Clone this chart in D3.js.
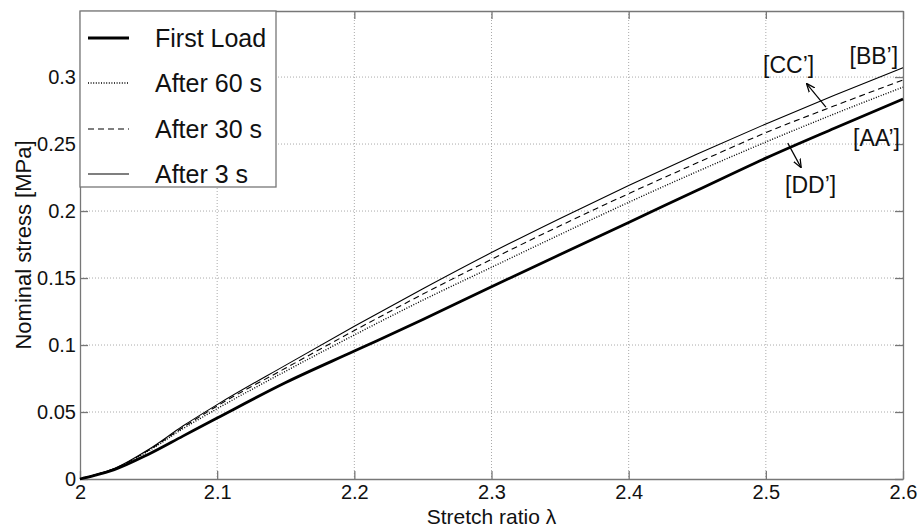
<!DOCTYPE html>
<html><head><meta charset="utf-8">
<script src="https://cdnjs.cloudflare.com/ajax/libs/d3/7.8.5/d3.min.js"></script>
<style>
body{margin:0;background:#fff;}
svg{display:block;font-family:"Liberation Sans",Arial,Helvetica,sans-serif;}
</style></head>
<body><svg id="chart" width="922" height="528"></svg>
<script>
// ---- data ----
const stretch = [2.0, 2.01, 2.025, 2.05, 2.075, 2.1, 2.15, 2.2, 2.25, 2.3, 2.35, 2.4, 2.45, 2.5, 2.55, 2.6];
const firstLoad = [0, 0.0025, 0.007, 0.0185, 0.032, 0.0455, 0.072, 0.0955, 0.119, 0.1435, 0.1675, 0.1915, 0.2155, 0.2395, 0.2618, 0.2836];
const after60 = [0, 0.0027, 0.0075, 0.021, 0.0375, 0.0525, 0.0805, 0.1075, 0.1335, 0.158, 0.1825, 0.2065, 0.2295, 0.2515, 0.2725, 0.2925];
const after30 = [0, 0.0028, 0.0077, 0.0215, 0.0385, 0.0545, 0.0828, 0.1108, 0.138, 0.164, 0.189, 0.213, 0.236, 0.2585, 0.2785, 0.2978];
const after3 = [0, 0.0028, 0.0078, 0.022, 0.0395, 0.0555, 0.085, 0.114, 0.142, 0.169, 0.1945, 0.219, 0.2425, 0.265, 0.2865, 0.307];
const seriesNames = ["First Load", "After 60 s", "After 30 s", "After 3 s"];
const xTicks = [2, 2.1, 2.2, 2.3, 2.4, 2.5, 2.6];
const xTickLabels = ["2", "2.1", "2.2", "2.3", "2.4", "2.5", "2.6"];
const yTicks = [0, 0.05, 0.1, 0.15, 0.2, 0.25, 0.3];
const yTickLabels = ["0", "0.05", "0.1", "0.15", "0.2", "0.25", "0.3"];
const labelTexts = ["[BB’]", "[CC’]", "[AA’]", "[DD’]"];
const labelX = [2.561, 2.498, 2.5636, 2.514];
const labelY = [0.3095, 0.303, 0.2485, 0.2135];
const arrowFromX = [2.5438, 2.516];
const arrowFromY = [0.2776, 0.2507];
const arrowToX = [2.530, 2.5255];
const arrowToY = [0.2948, 0.2328];

// ---- layout ----
const svg = d3.select("#chart");
const m = {left: 80, right: 19, top: 11, bottom: 49};
const W = 922, H = 528;
const iw = W - m.left - m.right, ih = H - m.top - m.bottom;
const x = d3.scaleLinear().domain([2, 2.6]).range([m.left, m.left + iw]);
const y = d3.scaleLinear().domain([0, 0.3493]).range([m.top + ih, m.top]);

const styles = [
  {w: 2.8, dash: null},
  {w: 1.4, dash: "1,1.6"},
  {w: 1.1, dash: "6,4"},
  {w: 1.1, dash: null}
];
const allSeries = [firstLoad, after60, after30, after3];

// defs
svg.append("defs").append("marker").attr("id", "arr")
  .attr("viewBox", "0 0 10 10").attr("refX", 9).attr("refY", 5)
  .attr("markerWidth", 9).attr("markerHeight", 9).attr("orient", "auto-start-reverse")
  .attr("markerUnits", "userSpaceOnUse")
  .append("path").attr("d", "M0,1 L10,5 L0,9").attr("fill", "none").attr("stroke", "#000").attr("stroke-width", 1.4);

// grid
const grid = svg.append("g");
grid.selectAll("line.vx").data(xTicks.slice(1, -1)).enter().append("line")
  .attr("x1", d => x(d)).attr("x2", d => x(d)).attr("y1", m.top).attr("y2", m.top + ih)
  .attr("stroke", "#aaa").attr("stroke-width", 1).attr("stroke-dasharray", "1,2");
grid.selectAll("line.hy").data(yTicks.slice(1)).enter().append("line")
  .attr("y1", d => y(d)).attr("y2", d => y(d)).attr("x1", m.left).attr("x2", m.left + iw)
  .attr("stroke", "#aaa").attr("stroke-width", 1).attr("stroke-dasharray", "1,2");

// axes (inward ticks on all four sides)
const fmtX = (d, i) => xTickLabels[i];
const fmtY = (d, i) => yTickLabels[i];
function styleAxis(g) {
  g.selectAll("path.domain").attr("stroke", "#777").attr("stroke-width", 1.3);
  g.selectAll(".tick line").attr("stroke", "#777").attr("stroke-width", 1.3);
  g.selectAll("text").attr("font-size", 20).attr("fill", "#111")
    .attr("font-family", "'Liberation Sans',Arial,sans-serif");
}
const gx = svg.append("g").attr("transform", `translate(0,${m.top + ih})`)
  .call(d3.axisBottom(x).tickValues(xTicks).tickFormat(fmtX).tickSizeInner(-8).tickSizeOuter(0).tickPadding(6));
styleAxis(gx);
gx.selectAll("text").attr("dy", "0").attr("y", 20);
const gy = svg.append("g").attr("transform", `translate(${m.left},0)`)
  .call(d3.axisLeft(y).tickValues(yTicks).tickFormat(fmtY).tickSizeInner(-8).tickSizeOuter(0).tickPadding(4));
styleAxis(gy);
const gt = svg.append("g").attr("transform", `translate(0,${m.top})`)
  .call(d3.axisTop(x).tickValues(xTicks).tickFormat("").tickSizeInner(-8).tickSizeOuter(0));
styleAxis(gt);
const gr = svg.append("g").attr("transform", `translate(${m.left + iw},0)`)
  .call(d3.axisRight(y).tickValues(yTicks).tickFormat("").tickSizeInner(-8).tickSizeOuter(0));
styleAxis(gr);

// curves
const line = d3.line().x((d, i) => x(stretch[i])).y(d => y(d)).curve(d3.curveMonotoneX);
allSeries.forEach((s, k) => {
  svg.append("path").datum(s).attr("d", line).attr("fill", "none")
    .attr("stroke", "#000").attr("stroke-width", styles[k].w)
    .attr("stroke-dasharray", styles[k].dash);
});

// annotations
svg.selectAll("text.ann").data(labelTexts).enter().append("text")
  .attr("x", (d, i) => x(labelX[i])).attr("y", (d, i) => y(labelY[i]))
  .attr("font-size", 23).attr("fill", "#111").text(d => d);
arrowFromX.forEach((v, i) => {
  svg.append("line").attr("x1", x(v)).attr("y1", y(arrowFromY[i]))
    .attr("x2", x(arrowToX[i])).attr("y2", y(arrowToY[i]))
    .attr("stroke", "#000").attr("stroke-width", 1.2).attr("marker-end", "url(#arr)");
});

// legend
const lg = svg.append("g");
lg.append("rect").attr("x", m.left).attr("y", m.top).attr("width", 196).attr("height", 176)
  .attr("fill", "#fff").attr("stroke", "#777").attr("stroke-width", 1.3);
const legY = [38, 83, 129, 174];
seriesNames.forEach((name, k) => {
  lg.append("line").attr("x1", 88).attr("x2", 129).attr("y1", legY[k]).attr("y2", legY[k])
    .attr("stroke", "#000").attr("stroke-width", styles[k].w).attr("stroke-dasharray", styles[k].dash);
  lg.append("text").attr("x", 155).attr("y", legY[k]).attr("dy", "0.36em")
    .attr("font-size", 25).attr("fill", "#111").text(name);
});

// axis titles
svg.append("text").attr("x", x(2.3)).attr("y", 524).attr("text-anchor", "middle")
  .attr("font-size", 21).attr("fill", "#111").text("Stretch ratio λ");
svg.append("text").attr("transform", `translate(31,${m.top + ih / 2}) rotate(-90)`)
  .attr("text-anchor", "middle").attr("font-size", 22).attr("fill", "#111").text("Nominal stress [MPa]");
</script></body></html>
